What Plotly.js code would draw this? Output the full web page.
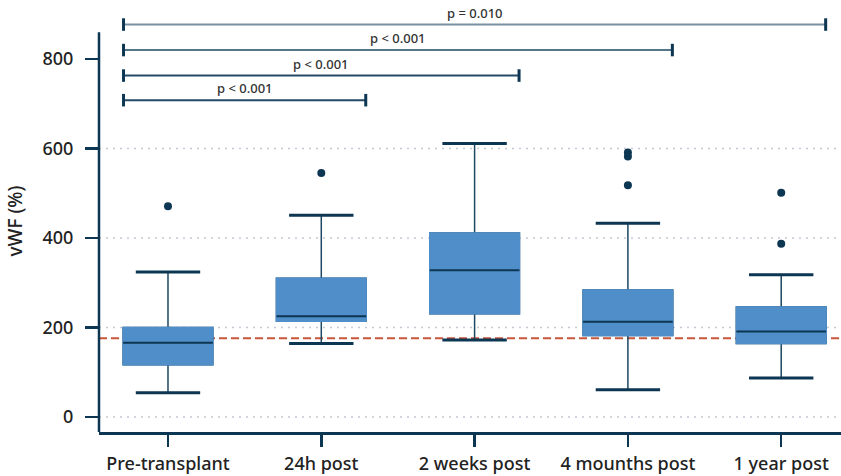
<!DOCTYPE html>
<html>
<head>
<meta charset="utf-8">
<script src="https://cdn.plot.ly/plotly-3.0.1.min.js"></script>
<style>html,body{margin:0;padding:0;background:#fff;}#chart{width:841px;height:476px;}</style>
</head>
<body>
<div id="chart"></div>
<script>
// ---- data ----
const categories = ['Pre-transplant', '24h post', '2 weeks post', '4 mounths post', '1 year post'];
const q1 = [117, 214, 231, 182, 164];
const median = [166, 225, 328, 213, 191];
const q3 = [200, 310, 411, 284, 246];
const lowerWhisker = [54, 164, 172, 61, 87];
const upperWhisker = [324, 451, 611, 433, 318];
const outlierCat = ['Pre-transplant', '24h post', '4 mounths post', '4 mounths post', '4 mounths post', '1 year post', '1 year post'];
const outlierVal = [471, 545, 591, 582, 518, 501, 387];
const referenceValue = 176;
const bracketFrom = [0, 0, 0, 0];
const bracketTo = [1, 2, 3, 4];
const bracketLevel = [708, 763, 820, 877];
const bracketLabel = ['p < 0.001', 'p < 0.001', 'p < 0.001', 'p = 0.010'];
const yTickVals = [0, 200, 400, 600, 800];
const gridVals = [0, 200, 400, 600];

// ---- styling ----
const NAVY = '#0d3652';
const WHISK = '#1d4863';
const BLUE = '#4f8ec9';
const BOXW = 0.585;
const CAPW = 0.42;
const FONT = 'Noto Sans, Open Sans, sans-serif';

const common = {type: 'box', x: categories, boxpoints: false, hoverinfo: 'skip', showlegend: false, width: BOXW};

const traces = [
  // whiskers (under the box)
  Object.assign({}, common, {
    q1: q1, median: median, q3: q3, lowerfence: lowerWhisker, upperfence: upperWhisker,
    line: {color: WHISK, width: 1.5}, fillcolor: 'rgba(0,0,0,0)', whiskerwidth: 0
  }),
  // filled box
  Object.assign({}, common, {
    q1: q1, median: q1, q3: q3, lowerfence: q1, upperfence: q3,
    line: {color: BLUE, width: 1.5}, fillcolor: BLUE, whiskerwidth: 0
  }),
  // median line
  Object.assign({}, common, {
    q1: median, median: median, q3: median, lowerfence: median, upperfence: median,
    line: {color: NAVY, width: 2}, fillcolor: 'rgba(0,0,0,0)', whiskerwidth: 0
  }),
  // whisker caps
  Object.assign({}, common, {
    x: categories.concat(categories),
    q1: lowerWhisker.concat(upperWhisker), median: lowerWhisker.concat(upperWhisker),
    q3: lowerWhisker.concat(upperWhisker), lowerfence: lowerWhisker.concat(upperWhisker),
    upperfence: lowerWhisker.concat(upperWhisker),
    width: CAPW, line: {color: NAVY, width: 3}, fillcolor: 'rgba(0,0,0,0)', whiskerwidth: 0
  }),
  // outliers
  {
    type: 'scatter', mode: 'markers', x: outlierCat, y: outlierVal,
    marker: {color: NAVY, size: 8}, hoverinfo: 'skip', showlegend: false, cliponaxis: false
  }
];

const shapes = [];
gridVals.forEach(v => shapes.push({
  type: 'line', xref: 'paper', x0: 0, x1: 1, yref: 'y', y0: v, y1: v, layer: 'below',
  line: {color: '#c3c8d4', width: 1.5, dash: '2px,5px'}
}));
shapes.push({
  type: 'line', xref: 'paper', x0: 0, x1: 1, yref: 'y', y0: referenceValue, y1: referenceValue, layer: 'below',
  line: {color: '#c9553b', width: 2, dash: '8px,4px'}
});
// left spine
shapes.push({
  type: 'line', xref: 'paper', x0: 0, x1: 0, yref: 'y', y0: -33.5, y1: 860,
  line: {color: NAVY, width: 2.5}
});

const annotations = [];
const bracketColors = ['#234a66', '#234a66', '#557588', '#7891a2'];
const HALF = 0.29;
const CAPH = 14;
bracketLevel.forEach((lv, i) => {
  const xa = bracketFrom[i] - HALF, xb = bracketTo[i] + HALF;
  shapes.push({type: 'line', xref: 'x', yref: 'y', x0: xa, x1: xb, y0: lv, y1: lv,
    line: {color: bracketColors[i], width: 2}});
  shapes.push({type: 'line', xref: 'x', yref: 'y', x0: xa, x1: xa, y0: lv - CAPH, y1: lv + CAPH,
    line: {color: NAVY, width: 3}});
  shapes.push({type: 'line', xref: 'x', yref: 'y', x0: xb, x1: xb, y0: lv - CAPH, y1: lv + CAPH,
    line: {color: NAVY, width: 3}});
  annotations.push({
    xref: 'x', yref: 'y', x: (xa + xb) / 2, y: lv, yshift: 12, showarrow: false,
    text: bracketLabel[i], font: {family: FONT, size: 13, color: '#333333', weight: 500}
  });
});

const layout = {
  width: 841, height: 476,
  margin: {l: 99, r: 0, t: 10, b: 44, pad: 0},
  paper_bgcolor: '#ffffff', plot_bgcolor: '#ffffff',
  boxmode: 'overlay',
  font: {family: FONT, color: '#222222'},
  xaxis: {
    type: 'category', range: [-0.45, 4.39], fixedrange: true,
    showline: true, linecolor: NAVY, linewidth: 2.5,
    ticks: 'outside', ticklen: 12, tickwidth: 2.5, tickcolor: NAVY,
    showgrid: false, zeroline: false,
    tickfont: {family: FONT, size: 18, color: '#222222', weight: 500},
    ticklabelstandoff: 2
  },
  yaxis: {
    range: [-33.5, 909.5], fixedrange: true,
    showline: false, showgrid: false, zeroline: false,
    tickmode: 'array', tickvals: yTickVals,
    ticks: 'outside', ticklen: 13, tickwidth: 2.5, tickcolor: NAVY,
    tickfont: {family: FONT, size: 18, color: '#222222', weight: 500},
    ticklabelstandoff: 8,
    title: {text: 'vWF (%)', font: {family: FONT, size: 19, color: '#222222', weight: 500}, standoff: 14}
  },
  shapes: shapes,
  annotations: annotations
};

Plotly.newPlot('chart', traces, layout, {staticPlot: true, displayModeBar: false});
</script>
</body>
</html>
